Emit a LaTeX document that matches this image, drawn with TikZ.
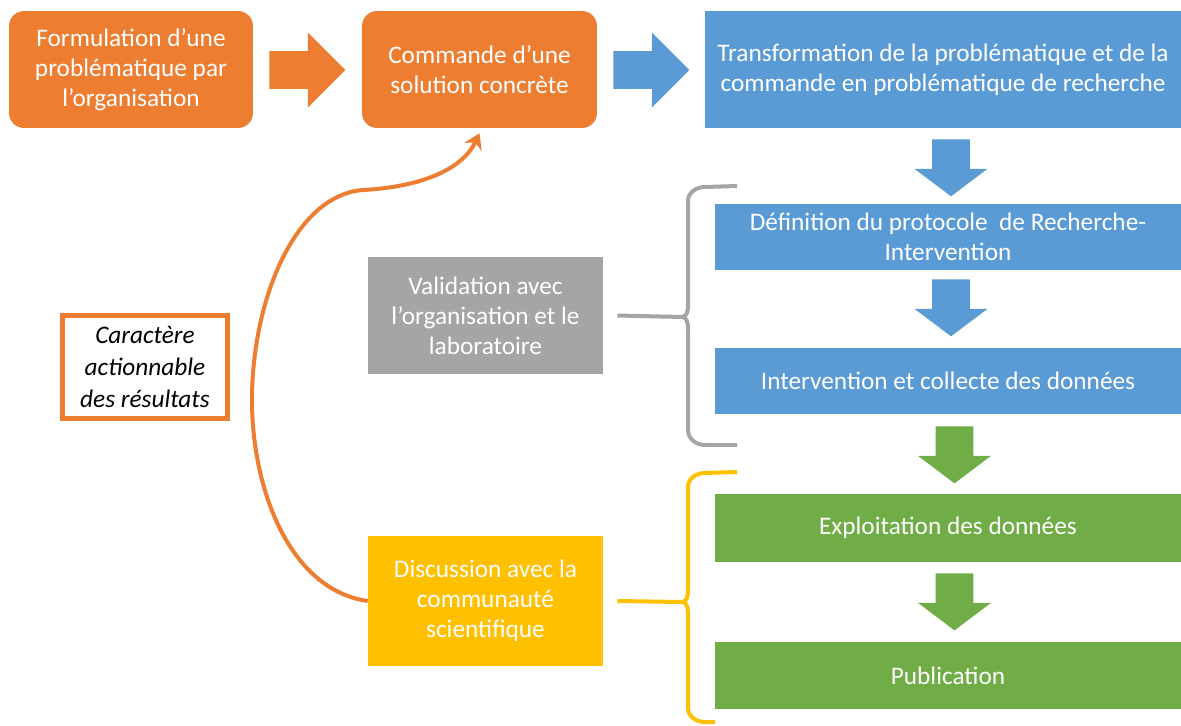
\documentclass[tikz,border=0pt]{standalone}
\usepackage{fontspec}
\setmainfont{Carlito}
\usetikzlibrary{shapes.arrows,arrows.meta,calc}
\definecolor{orangeO}{HTML}{ED7D31}
\definecolor{blueO}{HTML}{5B9BD5}
\definecolor{grayO}{HTML}{A5A5A5}
\definecolor{yellowO}{HTML}{FFC000}
\definecolor{greenO}{HTML}{70AD47}
\begin{document}
\begin{tikzpicture}[x=0.02cm,y=-0.02cm,
  every node/.style={font=\fontsize{14.4}{17.1}\selectfont, align=center, inner sep=0pt},
  obox/.style={fill=orangeO, text=white, rounded corners=0.3cm, minimum height=2.34cm},
  bbox/.style={fill=blueO, text=white, minimum width=9.32cm, minimum height=1.34cm},
  gbox/.style={fill=greenO, text=white, minimum width=9.32cm, minimum height=1.35cm},
  sidebox/.style={text=white, minimum width=4.7cm},
  cbox/.style={draw=orangeO, line width=0.1cm, fill=white,
    font=\fontsize{14.4}{18}\selectfont\itshape, minimum width=3.3cm, minimum height=2.06cm},
  harrow/.style={single arrow, anchor=tail, minimum height=1.52cm, inner xsep=0pt, inner ysep=0.37cm,
    single arrow head extend=0.37cm, single arrow tip angle=90},
  varrow/.style={single arrow, anchor=tail, rotate=-90, minimum height=1.14cm, inner xsep=0pt, inner ysep=0.37cm,
    single arrow head extend=0.35cm, single arrow tip angle=106},
  brace/.style={line width=0.08cm},
]
\useasboundingbox (0,0) rectangle (1181,726);

% top row
\node[obox, minimum width=4.88cm] (form) at (131,69.5) {Formulation d’une\\problématique par\\l’organisation};
\node[obox, minimum width=4.7cm] (cmd) at (479.5,69.5) {Commande d’une\\solution concrète};
\node[bbox, minimum width=9.52cm, minimum height=2.34cm] (trans) at (943,69.5)
  {Transformation de la problématique et de la\\commande en problématique de recherche};
\node[harrow, fill=orangeO] (a1) at (269,70) {};
\node[harrow, fill=blueO] (a2) at (613,70) {};

% right column
\node[bbox] (def) at (948,237) {Définition du protocole~ de Recherche-\\Intervention};
\node[bbox] (interv) at (948,381) {Intervention et collecte des données};
\node[gbox] (expl) at (948,528) {Exploitation des données};
\node[gbox] (pub) at (948,675.5) {Publication};
\node[varrow, fill=blueO] (a3) at (951,139) {};
\node[varrow, fill=blueO] (a4) at (951,279) {};
\node[varrow, fill=greenO] (a5) at (954.5,426) {};
\node[varrow, fill=greenO] (a6) at (954.5,573) {};

% middle column
\node[sidebox, fill=grayO, minimum height=2.34cm] (valid) at (485.5,315.5)
  {Validation avec\\l’organisation et le\\laboratoire};
\node[sidebox, fill=yellowO, minimum height=2.6cm] (disc) at (485.5,601)
  {Discussion avec la\\communauté\\scientifique};
\node[cbox] (carac) at (145,367) {Caractère\\actionnable\\des résultats};

% braces
\coordinate (gtip) at (682,317);
\coordinate (ytip) at (682,602);
\draw[brace, grayO] (737,186) -- (705,187) to[out=180,in=90] (688,201) -- (688,305)
  to[out=-90,in=0] (gtip) to[out=0,in=90] (688,329) -- (688,430)
  to[out=-90,in=180] (705,445) -- (737,445);
\draw[brace, grayO] ($(valid.east)+(14,0)$) -- (gtip);
\draw[brace, yellowO] (737,472) -- (705,473) to[out=180,in=90] (688,487) -- (688,590)
  to[out=-90,in=0] (ytip) to[out=0,in=90] (688,614) -- (688,708)
  to[out=-90,in=180] (705,722) -- (715,722);
\draw[brace, yellowO] ($(disc.east)+(14,0)$) -- (ytip);

% feedback curve
\draw[orangeO, line width=0.08cm, -{Stealth[length=0.3cm, width=0.38cm]}] (disc.west)
  .. controls (290,590) and (252,490) .. (252,400)
  .. controls (252,300) and (295,195) .. (363,190)
  .. controls (420,187) and (462,170) .. ($(cmd.south)+(0,5)$);
\end{tikzpicture}
\end{document}
